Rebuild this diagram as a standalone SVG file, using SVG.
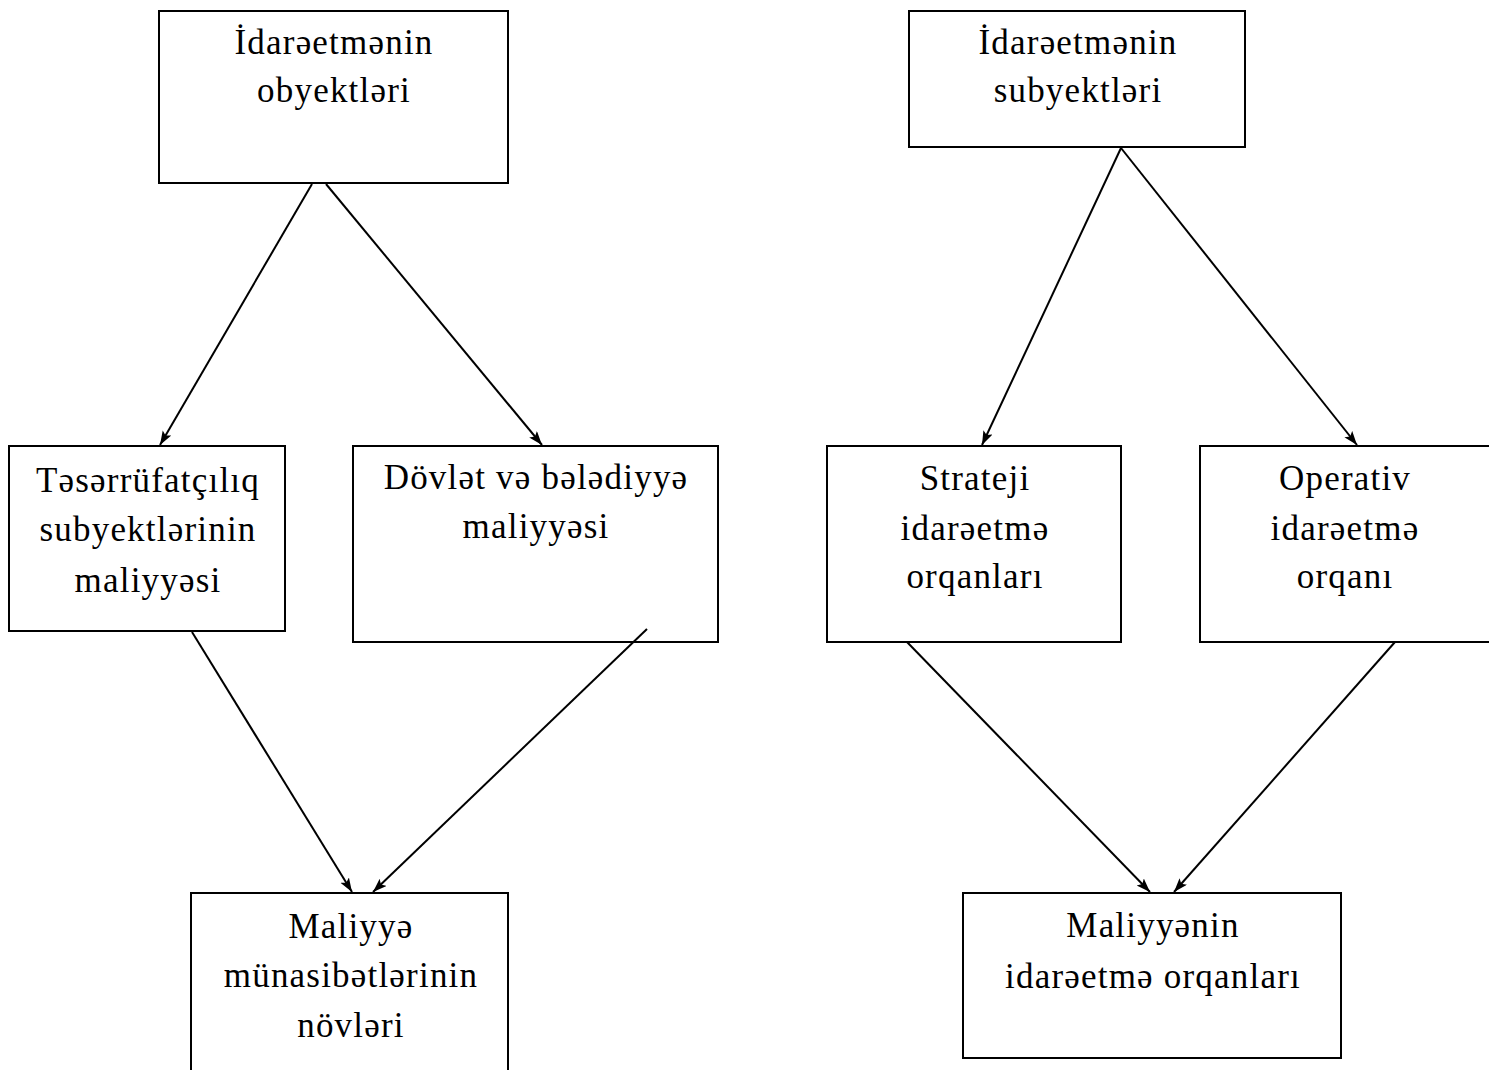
<svg xmlns="http://www.w3.org/2000/svg" width="1489" height="1070" viewBox="0 0 1489 1070">
<style>
.box{fill:#fff;stroke:#000;stroke-width:2}
.t{font-family:"Liberation Serif","Times New Roman",serif;font-size:35px;letter-spacing:1.2px;fill:#000;text-anchor:middle}
.c{stroke:#000;stroke-width:2;fill:none;marker-end:url(#ah)}
</style>
<defs>
<marker id="ah" markerUnits="userSpaceOnUse" markerWidth="16" markerHeight="12" refX="14" refY="5" orient="auto">
<path d="M0,0 L14,5 L0,10 L3,5 z" fill="#000"/>
</marker>
</defs>
<rect width="1489" height="1070" fill="#fff"/>
<g id="n1"><rect class="box" x="159" y="11" width="349" height="172"/>
<text class="t" x="334" y="54">İdarəetmənin</text><text class="t" x="334" y="102">obyektləri</text></g>
<g id="n2"><rect class="box" x="909" y="11" width="336" height="136"/>
<text class="t" x="1078" y="54">İdarəetmənin</text><text class="t" x="1078" y="102">subyektləri</text></g>
<g id="n3"><rect class="box" x="9" y="446" width="276" height="185"/>
<text class="t" x="148" y="492">Təsərrüfatçılıq</text><text class="t" x="148" y="541">subyektlərinin</text><text class="t" x="148" y="592">maliyyəsi</text></g>
<g id="n4"><rect class="box" x="353" y="446" width="365" height="196"/>
<text class="t" x="536" y="489">Dövlət və bələdiyyə</text><text class="t" x="536" y="538">maliyyəsi</text></g>
<g id="n5"><rect class="box" x="827" y="446" width="294" height="196"/>
<text class="t" x="975" y="490">Strateji</text><text class="t" x="975" y="540">idarəetmə</text><text class="t" x="975" y="588">orqanları</text></g>
<g id="n6"><rect class="box" x="1200" y="446" width="295" height="196"/>
<text class="t" x="1345" y="490">Operativ</text><text class="t" x="1345" y="540">idarəetmə</text><text class="t" x="1345" y="588">orqanı</text></g>
<g id="n7"><rect class="box" x="191" y="893" width="317" height="190"/>
<text class="t" x="351" y="938">Maliyyə</text><text class="t" x="351" y="987">münasibətlərinin</text><text class="t" x="351" y="1037">növləri</text></g>
<g id="n8"><rect class="box" x="963" y="893" width="378" height="165"/>
<text class="t" x="1153" y="937">Maliyyənin</text><text class="t" x="1153" y="988">idarəetmə orqanları</text></g>
<g id="connectors">
<line class="c" x1="312" y1="184" x2="160" y2="445"/>
<line class="c" x1="326" y1="184" x2="542" y2="445"/>
<line class="c" x1="1121" y1="148" x2="982" y2="445"/>
<line class="c" x1="1121" y1="148" x2="1357" y2="445"/>
<line class="c" x1="192" y1="632" x2="352" y2="892"/>
<line class="c" x1="647" y1="629" x2="373" y2="892"/>
<line class="c" x1="907" y1="642" x2="1150" y2="892"/>
<line class="c" x1="1395" y1="642" x2="1174" y2="892"/>
</g>
</svg>
